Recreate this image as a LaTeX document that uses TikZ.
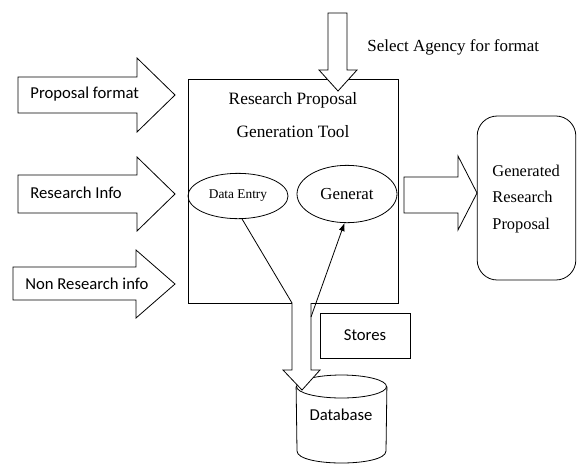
\documentclass[tikz,border=0pt]{standalone}
\usepackage{fontspec}
\setmainfont{Liberation Serif}
\newfontfamily\calibri{Carlito}
\usetikzlibrary{arrows.meta}
\usetikzlibrary{shapes.geometric}

\begin{document}
\begin{tikzpicture}[x=0.75pt, y=-0.75pt, line width=0.6pt,
    blockarrow/.style={draw, fill=white, line join=miter},
    sanstext/.style={font=\calibri\fontsize{12.5}{15}\selectfont, inner sep=0pt},
    seriftext/.style={font=\fontsize{13}{25}\selectfont, inner sep=0pt}]
      \useasboundingbox (0,0) rectangle (577,465);

      % database cylinder
      \node[ellipse, draw, inner sep=0pt, minimum width=67.5pt, minimum height=17.25pt] (dbtop) at (341.5,386.5) {};
      \draw (dbtop.west) -- (297,451) .. controls (297,467) and (386,467) .. (386,451) -- (dbtop.east);
      \node[sanstext] (db) at (341,415) {Database};

      % tool box and its parts
      \node[draw, inner sep=0pt, minimum width=157.5pt, minimum height=168pt] (tool) at (293,191) {};
      \node[ellipse, draw, inner sep=0pt, minimum width=75pt, minimum height=34pt, font=\fontsize{10}{12}\selectfont] (dentry) at (238,196) {Data Entry};
      \node[ellipse, draw, inner sep=0pt, minimum width=75pt, minimum height=43pt, font=\fontsize{12.6}{15}\selectfont] (gen) at (347,194) {Generat};

      % block arrows
      \draw[blockarrow] (18,77) -- (137,77) -- (137,58) -- (175,95) -- (137,132) -- (137,113) -- (18,113) -- cycle;
      \draw[blockarrow] (18,175) -- (137,175) -- (137,157) -- (175,194) -- (137,231) -- (137,213) -- (18,213) -- cycle;
      \draw[blockarrow] (13,267) -- (136,267) -- (136,250) -- (175,284) -- (136,318) -- (136,300) -- (13,300) -- cycle;
      \draw[blockarrow] (328,13) -- (347,13) -- (347,70) -- (357,70) -- (338,91) -- (319,70) -- (328,70) -- cycle;
      \draw[blockarrow] (404,177) -- (458,177) -- (458,156) -- (477,193) -- (458,230) -- (458,213) -- (404,213) -- cycle;
      \draw[blockarrow] (292,303) -- (292,370) -- (283,370) -- (302,390) -- (320,370) -- (311,370) -- (311,303);

      \node[sanstext, anchor=west] (pformat) at (30,94) {Proposal format};
      \node[sanstext, anchor=west] (rinfo) at (30,193) {Research Info};
      \node[sanstext, anchor=west] (nrinfo) at (25,284) {Non Research info};

      \node[seriftext, align=center] (title) at (293,115) {Research Proposal\\Generation Tool};
      \node[seriftext, anchor=west, font=\fontsize{12.7}{15}\selectfont] (agency) at (367,47) {Select Agency for format};

      % result
      \node[draw, rounded corners=15pt, inner sep=0pt, minimum width=74pt, minimum height=123pt] (result) at (526.5,198) {};
      \node[anchor=west, align=left, inner sep=0pt, font=\fontsize{12.3}{20}\selectfont] (restext) at (492,199) {Generated\\Research\\Proposal};

      % stores
      \node[draw, sanstext, minimum width=67.5pt, minimum height=33.75pt] (stores) at (365,335.5) {Stores};

      \coordinate (sx) at (292,303);
      \coordinate (sy) at (311,317);
      \draw (dentry.-80) -- (sx);
      \draw[-{Latex[length=6pt, width=4.5pt]}] (sy) -- (gen.-95);
    \end{tikzpicture}
\end{document}
